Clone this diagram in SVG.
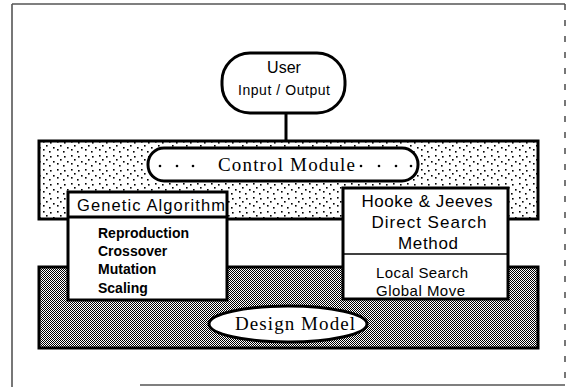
<svg xmlns="http://www.w3.org/2000/svg" width="570" height="387" viewBox="0 0 570 387">
<style>
.frame{fill:none;stroke:#555;stroke-width:1.6}
.box{fill:#fff;stroke:#000;stroke-width:3}
.band{stroke:#000;stroke-width:3}
.sans{font-family:"Liberation Sans",Arial,sans-serif;fill:#000}
.serif{font-family:"Liberation Serif","Times New Roman",serif;fill:#000}
.dot{fill:#000}
</style>
<defs>
<pattern id="dots" width="14" height="14" patternUnits="userSpaceOnUse">
<rect width="14" height="14" fill="#fff"/>
<rect x="1" y="1" width="1.6" height="1.6" fill="#000"/>
<rect x="8" y="2" width="1.6" height="1.6" fill="#000"/>
<rect x="4" y="5" width="1.6" height="1.6" fill="#000"/>
<rect x="11" y="7" width="1.6" height="1.6" fill="#000"/>
<rect x="1" y="9" width="1.6" height="1.6" fill="#000"/>
<rect x="7" y="11" width="1.6" height="1.6" fill="#000"/>
</pattern>
<pattern id="checker" width="2" height="2" patternUnits="userSpaceOnUse">
<rect width="2" height="2" fill="#fff"/>
<rect x="0" y="0" width="1" height="1" fill="#000"/>
<rect x="1" y="1" width="1" height="1" fill="#000"/>
</pattern>
</defs>
<rect width="570" height="387" fill="#fff"/>
<g id="frame">
<line class="frame" x1="12" y1="4" x2="565" y2="4"/>
<line class="frame" x1="12" y1="4" x2="12" y2="387"/>
<line class="frame" x1="565" y1="4" x2="565" y2="385" stroke-dasharray="6 10"/>
<line class="frame" x1="140" y1="385" x2="565" y2="385" stroke="#888" stroke-width="1"/>
</g>
<g id="control-band">
<rect class="band" x="39" y="141" width="499" height="78" fill="url(#dots)"/>
</g>
<g id="design-band">
<rect class="band" x="39" y="267" width="499" height="81" fill="url(#checker)"/>
</g>
<g id="connectors">
<line x1="286" y1="113" x2="286" y2="141" stroke="#000" stroke-width="3"/>
</g>
<g id="user">
<rect class="box" x="222" y="53" width="123" height="60" rx="28" ry="28"/>
<text class="sans" x="284" y="73" font-size="16" text-anchor="middle">User</text>
<text class="sans" x="284" y="95" font-size="14" text-anchor="middle" textLength="92" lengthAdjust="spacing">Input / Output</text>
</g>
<g id="control-module">
<rect class="box" x="148" y="148" width="270" height="33" rx="16" ry="16"/>
<circle class="dot" cx="160" cy="166" r="1.3"/>
<circle class="dot" cx="177" cy="166" r="1.3"/>
<circle class="dot" cx="193" cy="166" r="1.3"/>
<text class="serif" x="218" y="171" font-size="19" textLength="137" lengthAdjust="spacing">Control Module</text>
<circle class="dot" cx="361" cy="166" r="1.3"/>
<circle class="dot" cx="379" cy="166" r="1.3"/>
<circle class="dot" cx="396" cy="166" r="1.3"/>
<circle class="dot" cx="411" cy="166" r="1.3"/>
</g>
<g id="genetic-algorithm">
<rect class="box" x="68" y="192" width="159" height="108"/>
<line x1="68" y1="217" x2="227" y2="217" stroke="#000" stroke-width="3"/>
<text class="sans" x="77" y="211" font-size="16.5" textLength="148" lengthAdjust="spacing">Genetic  Algorithm</text>
<text class="sans" x="98" y="238" font-size="14" font-weight="bold">Reproduction</text>
<text class="sans" x="98" y="256" font-size="14" font-weight="bold">Crossover</text>
<text class="sans" x="98" y="274" font-size="14" font-weight="bold">Mutation</text>
<text class="sans" x="98" y="293" font-size="14" font-weight="bold">Scaling</text>
</g>
<g id="hooke-jeeves">
<rect class="box" x="343" y="188" width="165" height="111"/>
<line x1="343" y1="254" x2="508" y2="254" stroke="#000" stroke-width="1.5"/>
<text class="sans" x="427" y="207" font-size="17" text-anchor="middle" textLength="131" lengthAdjust="spacing">Hooke &amp; Jeeves</text>
<text class="sans" x="429" y="228" font-size="17" text-anchor="middle" textLength="115" lengthAdjust="spacing">Direct Search</text>
<text class="sans" x="428" y="249" font-size="17" text-anchor="middle" textLength="60" lengthAdjust="spacing">Method</text>
<text class="sans" x="376" y="278" font-size="15" textLength="92" lengthAdjust="spacing">Local Search</text>
<text class="sans" x="376" y="296" font-size="15" textLength="89" lengthAdjust="spacing">Global Move</text>
</g>
<g id="design-model">
<ellipse class="box" cx="288" cy="324" rx="79" ry="18"/>
<text class="serif" x="235" y="330" font-size="19" textLength="120" lengthAdjust="spacing">Design Model</text>
</g>
</svg>
